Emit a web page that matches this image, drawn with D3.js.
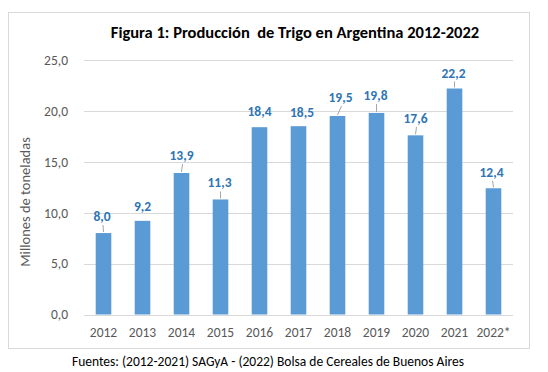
<!DOCTYPE html>
<html>
<head>
<meta charset="utf-8">
<script src="https://cdn.jsdelivr.net/npm/d3@7"></script>
<style>
  body { margin: 0; background: #fff; }
  text { font-family: Carlito, Lato, "Open Sans", sans-serif; }
</style>
</head>
<body>
<div id="chart"></div>
<script>
// data
var years = ["2012", "2013", "2014", "2015", "2016", "2017", "2018", "2019", "2020", "2021", "2022*"];
var production = [8.0, 9.2, 13.9, 11.3, 18.4, 18.5, 19.5, 19.8, 17.6, 22.2, 12.4];
var yTicks = [0, 5, 10, 15, 20, 25];

// label nudges (dx, dy in px) as placed in the original
var labelNudge = [[-1.5, -2], [0, 0], [0, -3], [-1, -2], [0, -1.5], [3.5, 0.5], [3, -4], [-1, -3], [0, -2.5], [-1, -1], [-2, -1.5]];
var hasLeader = [true, false, true, true, false, false, true, true, true, true, true];

var W = 548, H = 372;
var margin = { left: 84, right: 35, top: 60, bottom: 57.5 };

var svg = d3.select("#chart").append("svg")
    .attr("width", W)
    .attr("height", H);

// outer frame
svg.append("rect")
    .attr("x", 8.5).attr("y", 12.5)
    .attr("width", 521).attr("height", 336)
    .attr("fill", "#fff")
    .attr("stroke", "#d9d9d9");

var x = d3.scaleBand()
    .domain(years)
    .range([margin.left, W - margin.right])
    .paddingInner(0.6)
    .paddingOuter(0.3);

var y = d3.scaleLinear()
    .domain([0, 25])
    .range([H - margin.bottom, margin.top]);

var fmt = function (v) { return d3.format(".1f")(v).replace(".", ","); };

// grid
svg.append("g").selectAll("line")
    .data(yTicks)
    .enter().append("line")
    .attr("x1", margin.left)
    .attr("x2", W - margin.right)
    .attr("y1", function (d) { return Math.round(y(d)) + 0.5; })
    .attr("y2", function (d) { return Math.round(y(d)) + 0.5; })
    .attr("stroke", "#d9d9d9")
    .attr("stroke-width", 1);

// y axis labels
var yAxis = svg.append("g")
    .attr("transform", "translate(" + (margin.left - 16) + ",0)")
    .call(d3.axisLeft(y).tickValues(yTicks).tickSize(0).tickFormat(fmt));
yAxis.select(".domain").remove();
yAxis.selectAll("text")
    .attr("x", 0)
    .attr("fill", "#595959")
    .style("font-size", "13.5px")
    .style("font-family", "Carlito, Lato, sans-serif");

// x axis labels
var xAxis = svg.append("g")
    .attr("transform", "translate(0," + (H - margin.bottom) + ")")
    .call(d3.axisBottom(x).tickSize(0).tickPadding(13));
xAxis.select(".domain").remove();
xAxis.selectAll("text")
    .attr("fill", "#595959")
    .style("font-size", "13.5px")
    .style("font-family", "Carlito, Lato, sans-serif");

// bars
svg.append("g").selectAll("rect")
    .data(production)
    .enter().append("rect")
    .attr("x", function (d, i) { return x(years[i]); })
    .attr("width", x.bandwidth())
    .attr("y", function (d) { return y(d); })
    .attr("height", function (d) { return y(0) - y(d); })
    .attr("fill", "#5b9bd5");

function labelX(i) { return x(years[i]) + x.bandwidth() / 2 + labelNudge[i][0]; }
function labelY(d, i) { return y(d) - 10 + labelNudge[i][1]; }

// leader lines
var leaderIdx = d3.range(production.length).filter(function (i) { return hasLeader[i]; });
svg.append("g").selectAll("line")
    .data(leaderIdx)
    .enter().append("line")
    .attr("x1", function (i) { return labelX(i) + 1; })
    .attr("y1", function (i) { return labelY(production[i], i) + 4; })
    .attr("x2", function (i) { return x(years[i]) + x.bandwidth() / 2; })
    .attr("y2", function (i) { return y(production[i]) - 1; })
    .attr("stroke", "#a6a6a6")
    .attr("stroke-width", 1);

// value labels
svg.append("g").selectAll("text")
    .data(production)
    .enter().append("text")
    .attr("x", function (d, i) { return labelX(i); })
    .attr("y", function (d, i) { return labelY(d, i); })
    .attr("text-anchor", "middle")
    .attr("fill", "#2e75b6")
    .style("font-size", "13.5px")
    .style("font-weight", "bold")
    .text(function (d) { return fmt(d); });

// title
svg.append("text")
    .attr("x", 295)
    .attr("y", 38)
    .attr("text-anchor", "middle")
    .attr("fill", "#000")
    .style("font-size", "16.5px")
    .style("font-weight", "bold")
    .style("white-space", "pre")
    .text("Figura 1: Producción  de Trigo en Argentina 2012-2022");

// y title
svg.append("text")
    .attr("transform", "translate(30,202) rotate(-90)")
    .attr("text-anchor", "middle")
    .attr("fill", "#595959")
    .style("font-size", "14.5px")
    .text("Millones de toneladas");

// source
svg.append("text")
    .attr("x", 268)
    .attr("y", 366)
    .attr("text-anchor", "middle")
    .attr("fill", "#000")
    .style("font-size", "13.5px")
    .text("Fuentes: (2012-2021) SAGyA - (2022) Bolsa de Cereales de Buenos Aires");
</script>
</body>
</html>
